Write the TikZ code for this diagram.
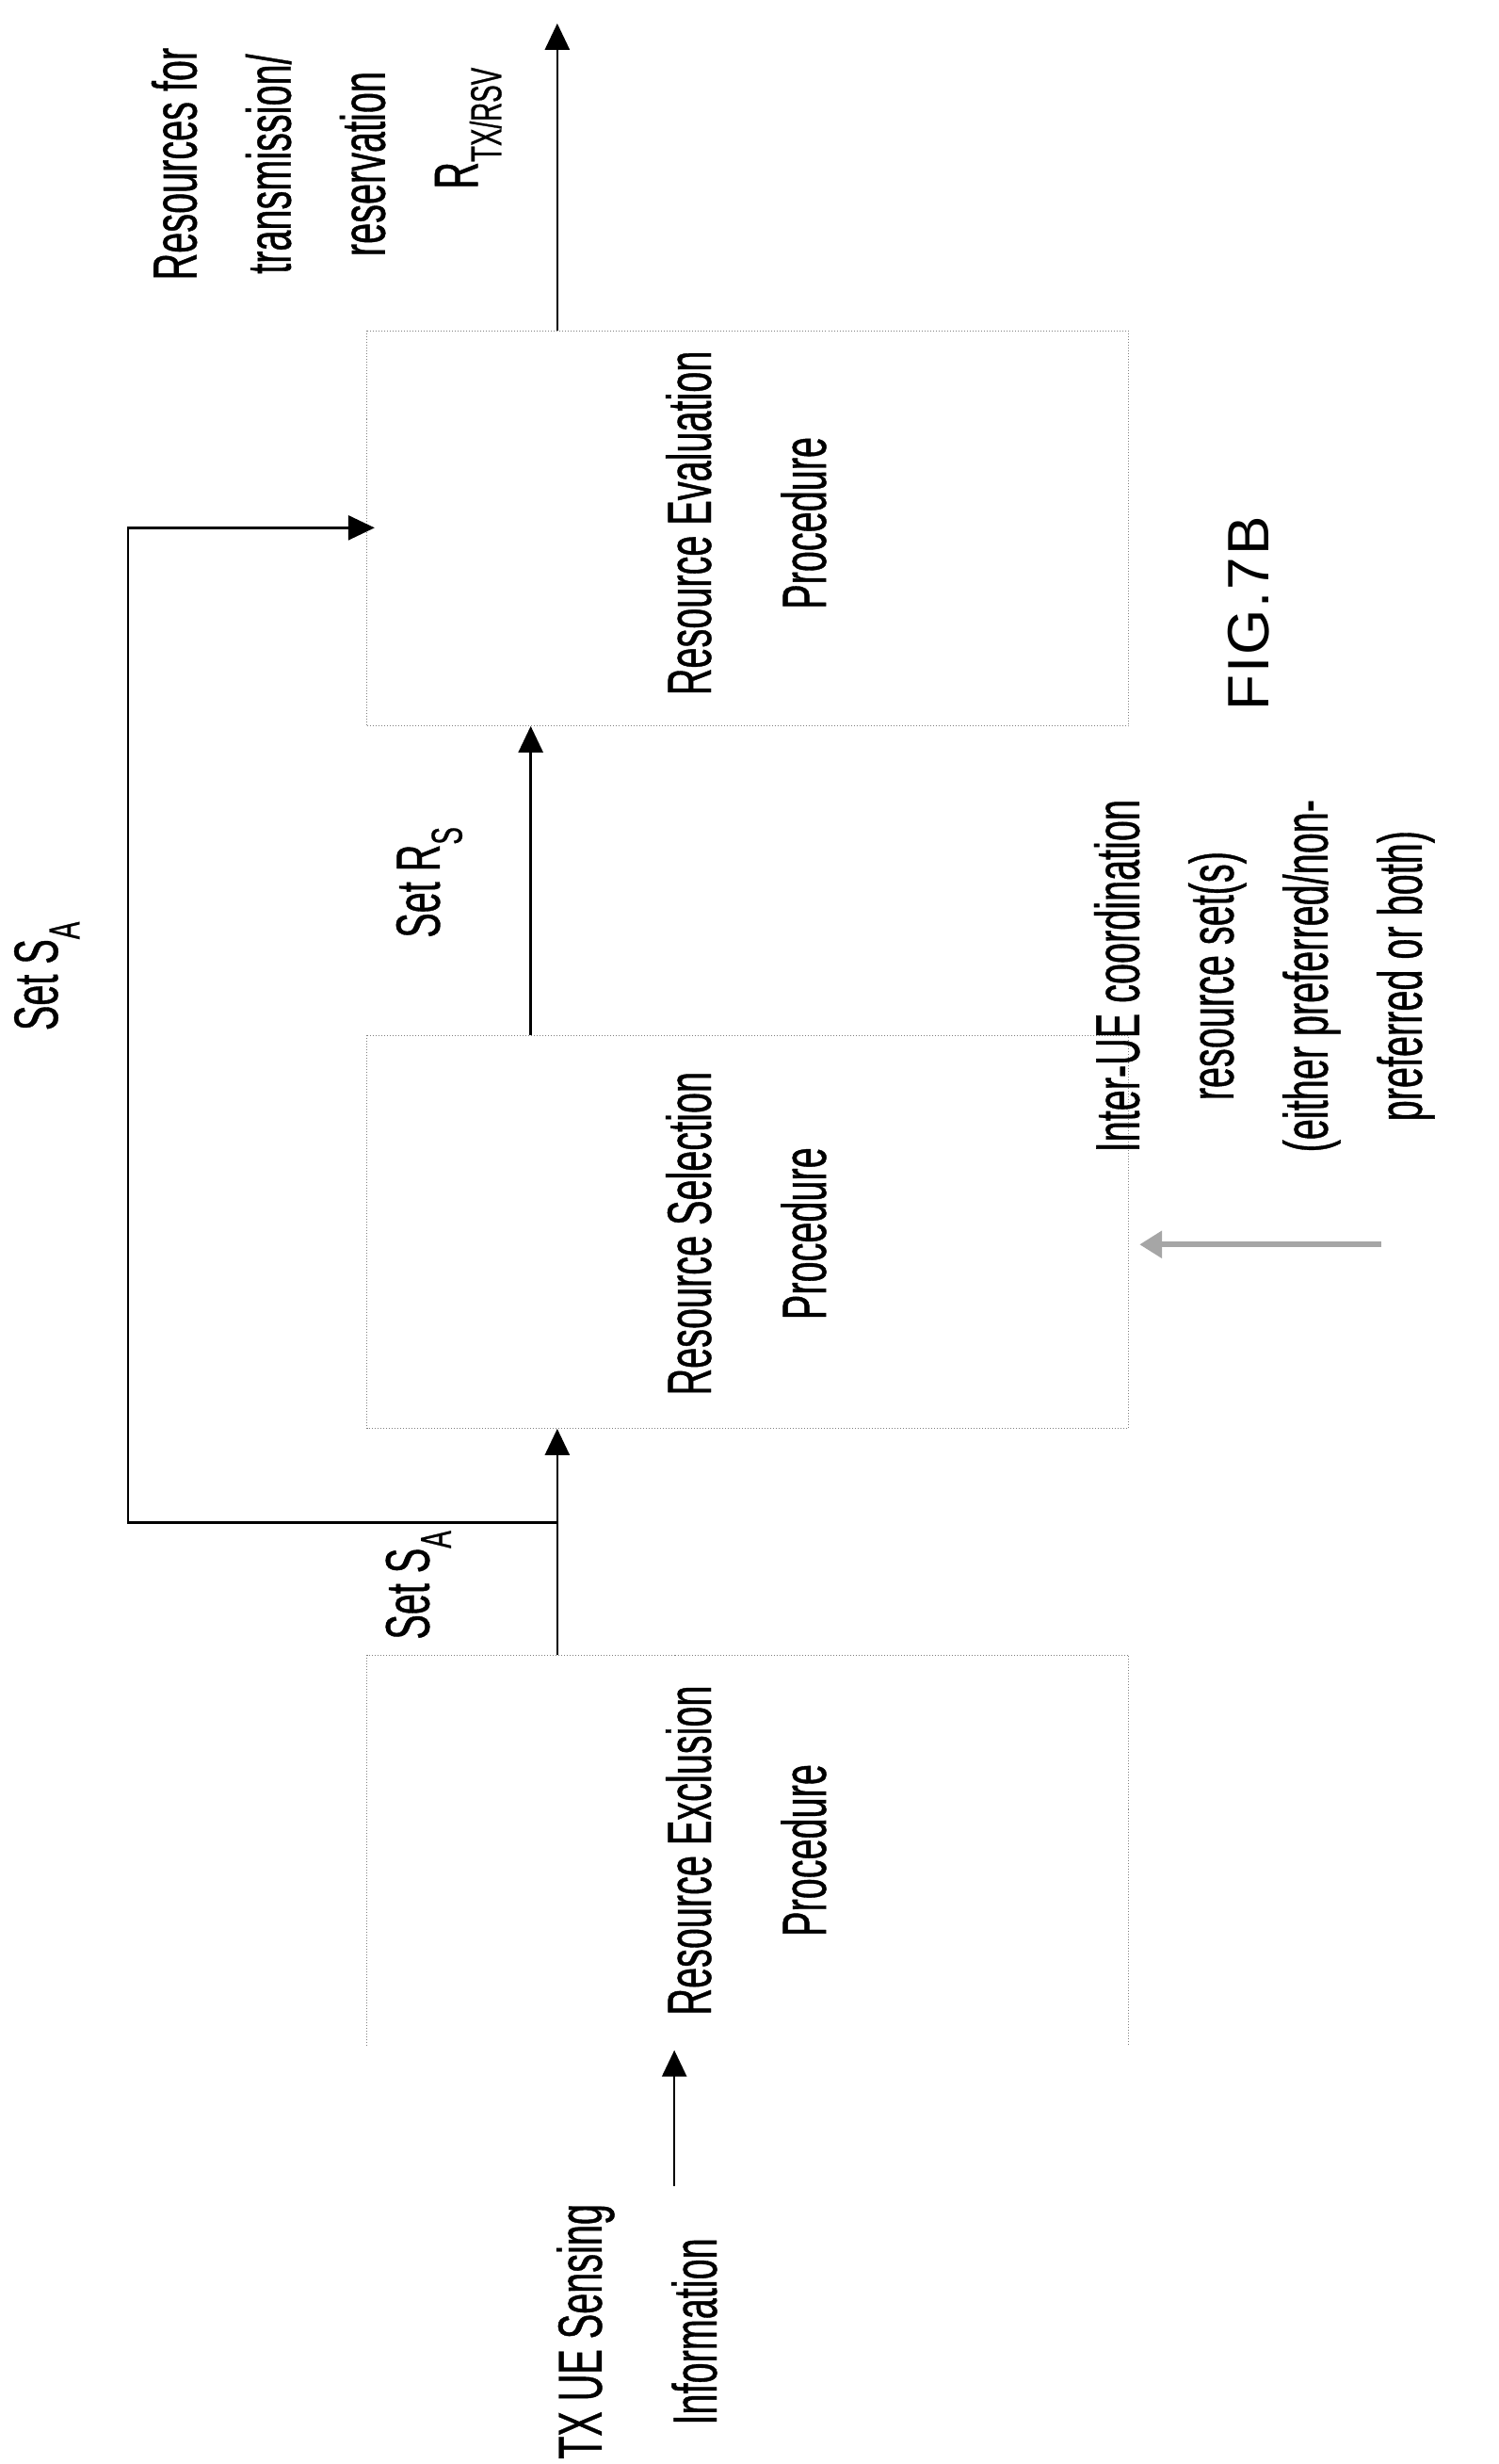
\documentclass[tikz,border=0pt]{standalone}
\usepackage{fontspec}
\setmainfont[FakeStretch=0.6,FakeBold=0.6]{Liberation Sans}
\newfontfamily\figfont{Liberation Sans}
\usetikzlibrary{arrows.meta}
\begin{document}
\begin{tikzpicture}[x=1.657pt,y=-1.657pt,
  lbl/.style={rotate=90,align=center,inner sep=0pt,font=\fontsize{66}{122}\selectfont},
  lblsm/.style={rotate=90,align=center,inner sep=0pt,font=\fontsize{66}{100}\selectfont},
  box/.style={draw=gray,dotted,line width=1pt},
  arr/.style={line width=2.6pt,-{Triangle[length=28pt,width=26pt]}},
  garr/.style={line width=6pt,draw=gray!70,-{Triangle[length=24pt,width=28pt]}}]
\useasboundingbox (0,0) rectangle (960,1578);
% boxes
\coordinate (evTL) at (235,212); \coordinate (evBR) at (723,465);
\coordinate (seTL) at (235,663); \coordinate (seBR) at (723,915);
\coordinate (exTL) at (235,1060); \coordinate (exBR) at (723,1310);
\draw[box] (evTL) rectangle (evBR);
\draw[box] (seTL) rectangle (seBR);
\draw[box] (235,1310) -- (exTL) -- (723,1060) -- (exBR);
% texts
\node[lbl] (ev) at (478,335) {Resource Evaluation\\Procedure};
\node[lbl] (se) at (478,790) {Resource Selection\\Procedure};
\node[lbl] (ex) at (478,1185) {Resource Exclusion\\Procedure};
\node[lbl,anchor=west] (tx) at (408,1575) {TX UE Sensing\\Information};
\node[lblsm] (out) at (172,105) {Resources for\\transmission/\\reservation};
\node[lbl] (rtx) at (300,82) {R\textsubscript{TX/RSV}};
\node[lbl] (sa1) at (268,1015) {Set S\textsubscript{A}};
\node[lbl] (sa2) at (30,625) {Set S\textsubscript{A}};
\node[lbl] (rs) at (275,565) {Set R\textsubscript{S}};
\node[lblsm] (iue) at (810,625) {Inter-UE coordination\\resource set(s)\\(either preferred/non-\\preferred or both)};
\node[rotate=90,inner sep=0pt,font=\figfont\fontsize{62}{64}\selectfont] (fig) at (800,393) {F\kern2pt I\kern2pt G\kern2pt .\kern2pt 7\kern2pt B};
% arrows
\coordinate (txs) at (432,1400); \coordinate (txe) at (432,1313);
\draw[arr] (txs) -- (txe);
\coordinate (a1s) at (357,1060); \coordinate (a1e) at (357,915); \coordinate (j) at (357,975);
\draw[arr] (a1s) -- (a1e);
\coordinate (c1) at (82,975); \coordinate (c2) at (82,338); \coordinate (c3) at (240,338);
\draw[arr] (j) -- (c1) -- (c2) -- (c3);
\coordinate (rss) at (340,663); \coordinate (rse) at (340,465);
\draw[arr] (rss) -- (rse);
\coordinate (os) at (357,212); \coordinate (oe) at (357,15);
\draw[arr] (os) -- (oe);
\coordinate (gs) at (885,797); \coordinate (ge) at (730,797);
\draw[garr] (gs) -- (ge);
\end{tikzpicture}
\end{document}
